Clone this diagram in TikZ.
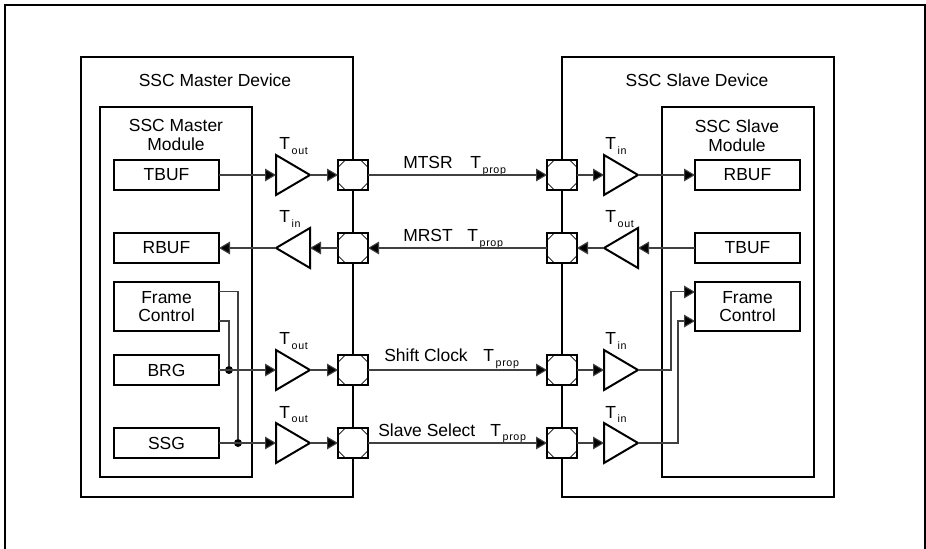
\documentclass[tikz,border=0pt]{standalone}
\usepackage{fontspec}
\setmainfont{Liberation Sans}
\newfontfamily\subfont[LetterSpace=6]{Liberation Sans}
\usetikzlibrary{arrows.meta,positioning,shapes.geometric}
\newcommand{\Tsub}[1]{T\raisebox{-0.45ex}{\subfont\fontsize{8}{9}\selectfont\,#1}}
\tikzset{
  frame/.style={draw, line width=1.5pt, outer sep=0pt},
  block/.style={frame, minimum width=78.75pt, minimum height=22.5pt, inner sep=0pt, align=center},
  tall/.style={block, minimum height=37pt},
  label/.style={inner sep=0pt, anchor=base west},
  title/.style={inner sep=0pt, anchor=base, align=center},
  driver/.style={frame, isosceles triangle, isosceles triangle stretches, anchor=apex,
                 minimum width=30pt, minimum height=25.5pt, inner sep=0pt, fill=white},
  receiver/.style={driver, shape border rotate=180},
  pad/.style={frame, fill=white, minimum size=22.5pt, inner sep=0pt,
    path picture={
      \draw[line width=0.6pt]
        ([xshift=5.5pt]path picture bounding box.north west) -- ([yshift=-5.5pt]path picture bounding box.north west)
        ([xshift=-5.5pt]path picture bounding box.north east) -- ([yshift=-5.5pt]path picture bounding box.north east)
        ([xshift=5.5pt]path picture bounding box.south west) -- ([yshift=5.5pt]path picture bounding box.south west)
        ([xshift=-5.5pt]path picture bounding box.south east) -- ([yshift=5.5pt]path picture bounding box.south east);
    }},
  wire/.style={line width=0.8pt, draw=black!75},
  signal/.style={wire, -{Triangle[length=8.25pt,width=9.5pt,fill=black]}},
  junction/.style={circle, fill=black, minimum size=6pt, inner sep=0pt}
}

\begin{document}
\begin{tikzpicture}[x=0.75pt, y=-0.75pt, font=\fontsize{13.1}{14}\selectfont]
  \useasboundingbox (0,0) rectangle (926,549);
  \draw[line width=1.5pt] (5,549) -- (5,5) -- (925,5) -- (925,549);

  % devices and modules
  \draw[frame] (81,57) rectangle (353,497);
  \draw[frame] (562,57) rectangle (834,497);
  \draw[frame] (100,107) rectangle (252,477);
  \draw[frame] (662,107) rectangle (814,477);
  \node[title] (masterdev) at (215,87) {SSC Master Device};
  \node[title] (slavedev) at (697,87) {SSC Slave Device};
  \node[title, anchor=north] (mastermod) at (176,119.5) {SSC Master\\Module};
  \node[title, anchor=north] (slavemod) at (737,119.5) {SSC Slave\\Module};

  % master blocks
  \node[block] (tbufm) at (166.5,175) {TBUF};
  \node[block, below=32.25pt of tbufm] (rbufm) {RBUF};
  \node[tall] (framem) at (166.5,306.5) {Frame\\Control};
  \node[block] (brg) at (166.5,370) {BRG};
  \node[block] (ssg) at (166.5,443) {SSG};

  % slave blocks
  \node[block] (rbufs) at (747.5,175) {RBUF};
  \node[block, below=32.25pt of rbufs] (tbufs) {TBUF};
  \node[tall] (frames) at (747.5,306.5) {Frame\\Control};

  % wires behind buffers and pads
  \node[pad] (padma) at (353,175) {};
  \node[pad] (padmb) at (353,248) {};
  \node[pad] (padmc) at (353,370) {};
  \node[pad] (padmd) at (353,443) {};
  \node[pad] (padsa) at (562,175) {};
  \node[pad] (padsb) at (562,248) {};
  \node[pad] (padsc) at (562,370) {};
  \node[pad] (padsd) at (562,443) {};

  \node[driver] (toa) at (310,175) {};
  \node[receiver] (tib) at (276,248) {};
  \node[driver] (toc) at (310,370) {};
  \node[driver] (tod) at (310,443) {};
  \node[driver] (tia) at (638,175) {};
  \node[receiver] (tob) at (604,248) {};
  \node[driver] (tic) at (638,370) {};
  \node[driver] (tid) at (638,443) {};

  \node[label] (ltoa) at (279,150) {\Tsub{out}};
  \node[label] (ltib) at (279,223) {\Tsub{in}};
  \node[label] (ltoc) at (279,345) {\Tsub{out}};
  \node[label] (ltod) at (279,418) {\Tsub{out}};
  \node[label] (ltia) at (605,150) {\Tsub{in}};
  \node[label] (ltob) at (605,223) {\Tsub{out}};
  \node[label] (ltic) at (605,345) {\Tsub{in}};
  \node[label] (ltid) at (605,418) {\Tsub{in}};

  % signal names
  \node[label] (mtsr) at (403,169) {MTSR};
  \node[label] (tpa) at (470,169) {\Tsub{prop}};
  \node[label] (mrst) at (403,242) {MRST};
  \node[label] (tpb) at (467,242) {\Tsub{prop}};
  \node[label] (shift) at (384,362) {Shift Clock};
  \node[label] (tpc) at (483,362) {\Tsub{prop}};
  \node[label] (select) at (378,436) {Slave Select};
  \node[label] (tpd) at (490,436) {\Tsub{prop}};

  % master side
  \draw[signal] (tbufm) -- (toa.lower side);
  \draw[signal] (toa.apex) -- (padma);
  \draw[signal] (tib.apex) -- (rbufm);
  \draw[signal] (padmb) -- (tib.lower side);
  \node[junction] (dotc) at (229,370) {};
  \node[junction] (dotd) at (238,443) {};
  \draw[signal] (brg) -- (toc.lower side);
  \draw[signal] (toc.apex) -- (padmc);
  \draw[signal] (ssg) -- (tod.lower side);
  \draw[signal] (tod.apex) -- (padmd);
  \draw[wire] ([yshift=10.9pt]framem.east) -| (dotd);
  \draw[wire] ([yshift=-10.9pt]framem.east) -| (dotc);

  % between devices
  \draw[signal] (padma) -- (padsa);
  \draw[signal] (padsb) -- (padmb);
  \draw[signal] (padmc) -- (padsc);
  \draw[signal] (padmd) -- (padsd);

  % slave side
  \draw[signal] (padsa) -- (tia.lower side);
  \draw[signal] (tia.apex) -- (rbufs);
  \draw[signal] (tbufs) -- (tob.lower side);
  \draw[signal] (tob.apex) -- (padsb);
  \draw[signal] (padsc) -- (tic.lower side);
  \draw[signal] (padsd) -- (tid.lower side);
  \coordinate (jogc) at (671,370);
  \coordinate (jogd) at (678,443);
  \draw[signal] (tic.apex) -- (jogc) |- ([yshift=10.9pt]frames.west);
  \draw[signal] (tid.apex) -- (jogd) |- ([yshift=-10.9pt]frames.west);
\end{tikzpicture}
\end{document}
